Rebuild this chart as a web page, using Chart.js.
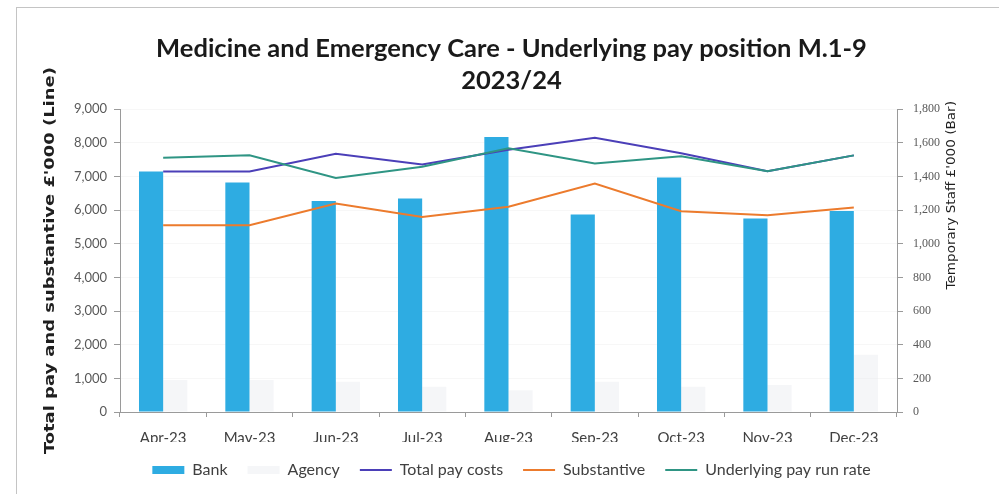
<!DOCTYPE html>
<html>
<head>
<meta charset="utf-8">
<script src="https://cdn.jsdelivr.net/npm/chart.js@4/dist/chart.umd.min.js"></script>
<style>
    html, body { margin: 0; padding: 0; background: #fff; }
    #wrap { position: relative; width: 999px; height: 494px; overflow: hidden; }
    #moldura { position: absolute; left: 16px; top: 7px; width: 1000px; height: 500px;
               border-left: 1px solid #c4c4c4; border-top: 1px solid #c4c4c4; }
    #grafico { position: absolute; left: 0; top: 0; }
</style>
</head>
<body>
<div id="wrap">
    <div id="moldura"></div>
    <canvas id="grafico" width="999" height="494"></canvas>
</div>
<script>
const meses = ['Apr-23', 'May-23', 'Jun-23', 'Jul-23', 'Aug-23', 'Sep-23', 'Oct-23', 'Nov-23', 'Dec-23'];
const bank = [1430, 1365, 1255, 1270, 1635, 1175, 1395, 1150, 1195];
const agency = [190, 190, 180, 150, 130, 180, 150, 160, 340];
const custoTotal = [7150, 7150, 7680, 7360, 7800, 8150, 7690, 7160, 7630];
const substantivo = [5550, 5550, 6200, 5800, 6100, 6790, 5970, 5850, 6080];
const taxaSubjacente = [7560, 7630, 6960, 7290, 7840, 7390, 7600, 7160, 7630];

const corEixo = '#9a9a9a';
const corTexto = '#404040';

// desenha um texto rodado (de baixo para cima), esticado ao longo da leitura
function textoVertical(ctx, texto, x, y, fonte, estica) {
    ctx.save();
    ctx.translate(x, y);
    ctx.rotate(-Math.PI / 2);
    ctx.scale(estica, 1);
    ctx.font = fonte;
    ctx.fillStyle = '#1f1f1f';
    ctx.textAlign = 'center';
    ctx.textBaseline = 'middle';
    ctx.fillText(texto, 0, 0);
    ctx.restore();
}

// titulos dos dois eixos verticais
const titulosEixos = {
    id: 'titulosEixos',
    afterDraw(chart) {
        const area = chart.chartArea;
        const meio = (area.top + area.bottom) / 2;
        textoVertical(chart.ctx, "Total pay and substantive £'000 (Line)", area.left - 70, meio,
            'bold 14px "DejaVu Sans", sans-serif', 1.28);
        textoVertical(chart.ctx, "Temporary Staff £'000 (Bar)", area.right + 55, area.top + 86,
            '12px "DejaVu Sans", sans-serif', 1.13);
    }
};

function milhar(v) {
    return v.toLocaleString('en-US');
}

const ctx = document.getElementById('grafico').getContext('2d');
new Chart(ctx, {
    type: 'bar',
    data: {
        labels: meses,
        datasets: [
            {
                label: 'Bank',
                data: bank,
                yAxisID: 'y1',
                backgroundColor: '#2eace2',
                borderWidth: 0,
                pointStyle: 'rect',
                order: 2,
                categoryPercentage: 0.56,
                barPercentage: 1
            },
            {
                label: 'Agency',
                data: agency,
                yAxisID: 'y1',
                backgroundColor: 'rgba(226,229,235,0.35)',
                borderWidth: 0,
                pointStyle: 'rect',
                order: 2,
                categoryPercentage: 0.56,
                barPercentage: 1
            },
            {
                type: 'line',
                label: 'Total pay costs',
                data: custoTotal,
                yAxisID: 'y',
                borderColor: '#4b3fb8',
                backgroundColor: '#4b3fb8',
                borderWidth: 2,
                pointRadius: 0,
                pointStyle: 'line',
                tension: 0,
                order: 1
            },
            {
                type: 'line',
                label: 'Substantive',
                data: substantivo,
                yAxisID: 'y',
                borderColor: '#ec7b2d',
                backgroundColor: '#ec7b2d',
                borderWidth: 2,
                pointRadius: 0,
                pointStyle: 'line',
                tension: 0,
                order: 1
            },
            {
                type: 'line',
                label: 'Underlying pay run rate',
                data: taxaSubjacente,
                yAxisID: 'y',
                borderColor: '#2f9584',
                backgroundColor: '#2f9584',
                borderWidth: 2,
                pointRadius: 0,
                pointStyle: 'line',
                tension: 0,
                order: 0
            }
        ]
    },
    options: {
        responsive: false,
        animation: false,
        layout: { padding: { left: 24, right: 0, top: 0, bottom: 6 } },
        plugins: {
            title: {
                display: true,
                text: ['Medicine and Emergency Care - Underlying pay position M.1-9', '2023/24'],
                color: '#1a1a1a',
                font: { family: 'Lato', size: 25.5, weight: 'bold', lineHeight: 1.28 },
                padding: { top: 32, bottom: 12 }
            },
            legend: {
                position: 'bottom',
                labels: {
                    usePointStyle: true,
                    pointStyleWidth: 32,
                    boxHeight: 8,
                    padding: 20,
                    color: corTexto,
                    font: { family: 'Lato', size: 16 },
                    sort: (a, b) => a.datasetIndex - b.datasetIndex
                }
            },
            tooltip: { enabled: false }
        },
        scales: {
            x: {
                afterFit: (s) => { s.height = 30; },
                grid: { display: true, drawOnChartArea: false, offset: true, tickLength: 5, tickColor: corEixo },
                border: { color: corEixo },
                ticks: { color: corTexto, padding: 12, font: { family: 'Lato', size: 15 } }
            },
            y: {
                position: 'left',
                min: 0,
                max: 9000,
                afterFit: (s) => { s.width = 96; },
                ticks: { stepSize: 1000, color: '#595959', padding: 7, font: { family: 'Lato', size: 13 }, callback: milhar },
                grid: { color: 'rgba(0,0,0,0.03)', tickColor: corEixo, tickLength: 6 },
                border: { color: corEixo }
            },
            y1: {
                position: 'right',
                min: 0,
                max: 1800,
                afterFit: (s) => { s.width = 102; },
                ticks: { stepSize: 200, color: '#595959', padding: 10, font: { family: 'Liberation Sans Narrow', size: 12 }, callback: milhar },
                grid: { drawOnChartArea: false, tickColor: corEixo, tickLength: 6 },
                border: { color: corEixo }
            }
        }
    },
    plugins: [titulosEixos]
});
</script>
</body>
</html>
